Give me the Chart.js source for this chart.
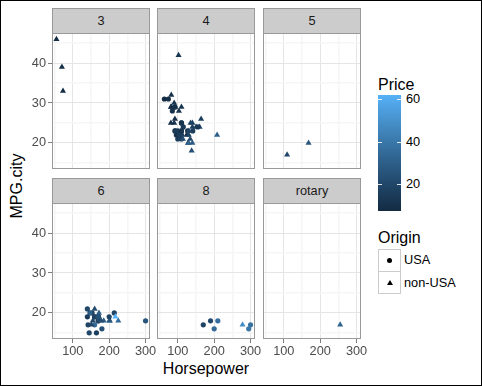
<!DOCTYPE html>
<html>
<head>
<meta charset="utf-8">
<script src="https://cdn.jsdelivr.net/npm/chart.js@4.4.0/dist/chart.umd.min.js"></script>
<style>
  body { margin: 0; background: #fff; font-family: "Liberation Sans", Arial, sans-serif; }
  #fig { position: relative; width: 482px; height: 386px; overflow: hidden; background: #fff; }
  #fig canvas { position: absolute; }
  .frame { position: absolute; left: 0; top: 0; width: 482px; height: 386px; box-sizing: border-box; border: 1px solid #000; pointer-events: none; z-index: 5; }
  .strip { position: absolute; background: #ccc; border: 1px solid #999; box-sizing: border-box; text-align: center; font-size: 12.75px; color: #1a1a1a; line-height: 24px; }
  .txt { position: absolute; white-space: nowrap; color: #000; }
  .key { position: absolute; left: 378px; width: 23px; height: 23px; box-sizing: border-box; border: 1px solid #ccc; background: #fff; }
  .dot { position: absolute; left: 8px; top: 8px; width: 5px; height: 5px; border-radius: 50%; background: #000; }
  .tri { position: absolute; left: 7.5px; top: 7.5px; width: 0; height: 0; border-left: 3px solid transparent; border-right: 3px solid transparent; border-bottom: 5px solid #000; }
  .cbtick { position: absolute; width: 4px; height: 1px; background: rgba(255,255,255,0.85); }
</style>
</head>
<body>
<div id="fig">
  <div class="frame"></div>
  <div class="txt" style="left:0;top:359px;width:412px;text-align:center;font-size:16px;line-height:20px;">Horsepower</div>
  <div class="txt" style="left:-23px;top:176px;width:80px;text-align:center;font-size:16px;line-height:20px;transform:rotate(-90deg);">MPG.city</div>
  <div class="txt" style="left:378px;top:75px;font-size:16px;line-height:20px;">Price</div>
  <div id="colorbar" style="position:absolute;left:378px;top:95px;width:23px;height:116px;"></div>
  <div class="txt" style="left:378px;top:228px;font-size:16px;line-height:20px;">Origin</div>
  <div class="key" style="top:249px;"><div class="dot"></div></div>
  <div class="key" style="top:271px;"><div class="tri"></div></div>
  <div class="txt" style="left:404px;top:252px;font-size:12.75px;line-height:16px;">USA</div>
  <div class="txt" style="left:404px;top:275px;font-size:12.75px;line-height:16px;">non-USA</div>
</div>
<script>
// Cars93: one entry per car
const horsepower = [140,200,172,172,208,110,170,180,170,200,
  295,110,110,160,110,170,165,170,300,153,
  141,147,92,93,100,142,100,300,92,214,
  63,127,96,105,115,145,140,190,55,90,
  160,102,140,81,124,92,128,278,185,225,
  160,210,82,103,164,155,255,130,217,100,
  140,92,202,110,150,151,160,155,110,170,
  170,92,74,110,160,200,170,140,85,73,
  90,130,70,82,135,130,138,81,109,134,
  178,114,168];
const mpgCity = [25,18,20,19,22,22,19,16,19,16,
  16,25,25,19,21,18,15,17,17,20,
  23,20,29,23,22,17,21,18,29,20,
  31,23,22,22,24,15,21,18,46,30,
  24,42,24,29,22,26,20,17,18,18,
  17,18,29,28,26,18,17,20,19,23,
  19,29,18,29,24,17,21,24,23,18,
  19,23,31,23,19,19,19,20,28,33,
  25,23,39,32,25,22,18,25,17,21,
  18,21,20];
const price = [15.9,33.9,29.1,37.7,30.0,15.7,20.8,23.7,26.3,34.7,
  40.1,13.4,11.4,15.1,15.9,16.3,16.6,18.8,38.0,18.4,
  15.8,29.5,9.2,11.3,13.3,19.0,15.6,25.8,12.2,19.3,
  7.4,10.1,11.3,15.9,14.0,19.9,20.2,20.9,8.4,12.5,
  19.8,12.1,17.5,8.0,10.0,10.0,13.9,47.9,28.0,35.2,
  34.3,36.1,8.3,11.6,16.5,19.1,32.5,31.9,61.9,14.1,
  14.9,10.3,26.1,11.8,15.7,19.1,21.5,13.5,16.3,19.5,
  20.7,14.4,9.0,11.1,17.7,18.5,24.4,28.7,11.1,8.4,
  10.9,19.5,8.6,9.8,18.4,18.2,22.7,9.1,19.7,20.0,
  23.3,22.7,26.7];
const cylinders = ['4','6','6','6','4','4','6','6','6','8',
  '8','4','4','6','4','6','6','8','8','6',
  '4','6','4','4','4','6','4','6','4','6',
  '4','4','4','4','4','6','6','8','3','4',
  '4','4','4','4','4','4','4','8','6','6',
  '6','8','4','4','4','6','rotary','4','6','4',
  '6','4','6','4','4','6','6','4','4','6',
  '6','4','4','4','6','6','6','4','4','3',
  '4','4','3','4','4','4','4','4','5','4',
  '6','4','5'];
const U = 'USA', N = 'non-USA';
const origin = [N,N,N,N,N,U,U,U,U,U,
  U,U,U,U,U,U,U,U,U,U,
  U,U,U,U,U,U,U,U,U,U,
  U,U,U,U,U,U,U,U,N,N,
  N,N,N,N,N,N,N,N,N,N,
  U,U,N,N,N,N,N,N,N,U,
  U,N,N,N,N,N,N,U,U,U,
  U,U,U,U,U,U,U,N,U,N,
  N,N,N,N,N,N,N,N,N,N,
  N,N,N];

const facets = ['3','4','5','6','8','rotary'];
const xTicks = [50,100,150,200,250,300];
const yTicks = [15,20,25,30,35,40,45];
const priceTicks = [20,40,60];

// ggplot default gradient, interpolated in CIELAB
function toLab(hex) {
  const [r,g,b] = [1,3,5].map(i => {
    let c = parseInt(hex.substr(i,2),16)/255;
    return c <= 0.04045 ? c/12.92 : Math.pow((c+0.055)/1.055, 2.4);
  });
  const x = (0.4124564*r + 0.3575761*g + 0.1804375*b)/0.95047;
  const y = 0.2126729*r + 0.7151522*g + 0.0721750*b;
  const z = (0.0193339*r + 0.1191920*g + 0.9503041*b)/1.08883;
  const f = t => t > 216/24389 ? Math.cbrt(t) : (24389/27*t + 16)/116;
  return [116*f(y)-16, 500*(f(x)-f(y)), 200*(f(y)-f(z))];
}
function fromLab([L,a,bb]) {
  const fy = (L+16)/116, fx = fy + a/500, fz = fy - bb/200;
  const inv = t => { const t3 = t*t*t; return t3 > 216/24389 ? t3 : (116*t-16)/(24389/27); };
  const x = inv(fx)*0.95047, y = inv(fy), z = inv(fz)*1.08883;
  const rgb = [
    3.2404542*x - 1.5371385*y - 0.4985314*z,
    -0.9692660*x + 1.8760108*y + 0.0415560*z,
    0.0556434*x - 0.2040259*y + 1.0572252*z
  ].map(c => {
    c = c <= 0.0031308 ? 12.92*c : 1.055*Math.pow(c,1/2.4) - 0.055;
    return Math.round(Math.max(0, Math.min(1, c))*255);
  });
  return 'rgb(' + rgb.join(',') + ')';
}
const lowLab = toLab('#132B43'), highLab = toLab('#56B1F7');
const pMin = Math.min(...price), pMax = Math.max(...price);
function priceColor(p) {
  const t = (p - pMin)/(pMax - pMin);
  return fromLab(lowLab.map((v,i) => v + (highLab[i]-v)*t));
}

const fig = document.getElementById('fig');
const font = { family: '"Liberation Sans", Arial, sans-serif', size: 12.75 };

// colour bar legend
const cb = document.getElementById('colorbar');
const stops = [];
for (let i = 0; i <= 20; i++) stops.push(priceColor(pMax - (pMax-pMin)*i/20) + ' ' + (i*5) + '%');
cb.style.background = 'linear-gradient(to bottom,' + stops.join(',') + ')';
priceTicks.forEach(v => {
  const y = 95 + (pMax - v)/(pMax - pMin)*116;
  [378, 397].forEach(x => {
    const t = document.createElement('div');
    t.className = 'cbtick';
    t.style.left = x + 'px'; t.style.top = Math.round(y) + 'px';
    fig.appendChild(t);
  });
  const l = document.createElement('div');
  l.className = 'txt';
  l.style.cssText = 'left:406px;top:' + (Math.round(y) - 8) + 'px;font-size:12.75px;line-height:16px;';
  l.textContent = v;
  fig.appendChild(l);
});

const panelBorder = {
  id: 'panelBorder',
  afterDraw(chart) {
    const a = chart.chartArea, ctx = chart.ctx;
    ctx.save();
    ctx.strokeStyle = '#999';
    ctx.lineWidth = 1;
    ctx.strokeRect(a.left + 0.5, a.top + 0.5, a.right - a.left - 1, a.bottom - a.top - 1);
    ctx.restore();
  }
};

const colLeft = [52, 157, 263], rowTop = [33, 203];
const panelW = 98, panelH = 136;
const padT = 10;

facets.forEach((f, i) => {
  const col = i % 3, row = Math.floor(i / 3);
  const padL = col === 0 ? 40 : 0, padB = row === 1 ? 24 : 0;
  const extraB = row === 0 ? 10 : 0;

  const strip = document.createElement('div');
  strip.className = 'strip';
  strip.style.left = colLeft[col] + 'px';
  strip.style.top = (rowTop[row] - 25) + 'px';
  strip.style.width = panelW + 'px';
  strip.style.height = '26px';
  strip.textContent = f;
  fig.appendChild(strip);

  const cv = document.createElement('canvas');
  cv.width = padL + panelW + 12;
  cv.height = padT + panelH + padB + extraB;
  cv.style.left = (colLeft[col] - padL) + 'px';
  cv.style.top = (rowTop[row] - padT) + 'px';
  fig.appendChild(cv);

  const idx = [];
  cylinders.forEach((c, k) => { if (c === f) idx.push(k); });

  new Chart(cv, {
    type: 'scatter',
    data: {
      datasets: [{
        data: idx.map(k => ({ x: horsepower[k], y: mpgCity[k] })),
        pointStyle: idx.map(k => origin[k] === 'USA' ? 'circle' : 'triangle'),
        pointRadius: idx.map(k => origin[k] === 'USA' ? 2.6 : 3.5),
        pointBackgroundColor: idx.map(k => priceColor(price[k])),
        pointBorderWidth: 0
      }]
    },
    options: {
      responsive: false,
      animation: false,
      events: [],
      layout: { padding: { top: padT, right: 12, bottom: extraB, left: 0 }, autoPadding: false },
      plugins: { legend: { display: false }, tooltip: { enabled: false } },
      scales: {
        x: {
          type: 'linear', min: 42.75, max: 312.25,
          afterBuildTicks: s => { s.ticks = xTicks.map(v => ({ value: v })); },
          afterFit: s => { s.height = padB; },
          border: { display: false },
          grid: {
            color: c => c.tick && c.tick.value % 100 === 0 ? '#e5e5e5' : '#f6f6f6',
            lineWidth: c => c.tick && c.tick.value % 100 === 0 ? 1 : 1.5,
            tickLength: 4,
            tickColor: c => row === 1 && c.tick && c.tick.value % 100 === 0 ? '#7f7f7f' : 'rgba(0,0,0,0)'
          },
          ticks: {
            display: row === 1, autoSkip: false, maxRotation: 0, padding: 1,
            color: '#4d4d4d', font,
            callback: v => v % 100 === 0 ? String(v) : ''
          }
        },
        y: {
          type: 'linear', min: 13.45, max: 47.55,
          afterBuildTicks: s => { s.ticks = yTicks.map(v => ({ value: v })); },
          afterFit: s => { s.width = padL; },
          border: { display: false },
          grid: {
            color: c => c.tick && c.tick.value % 10 === 0 ? '#e5e5e5' : '#f6f6f6',
            lineWidth: c => c.tick && c.tick.value % 10 === 0 ? 1 : 1.5,
            tickLength: 4,
            tickColor: c => col === 0 && c.tick && c.tick.value % 10 === 0 ? '#7f7f7f' : 'rgba(0,0,0,0)'
          },
          ticks: {
            display: col === 0, autoSkip: false, padding: 2,
            color: '#4d4d4d', font,
            callback: v => v % 10 === 0 ? String(v) : ''
          }
        }
      }
    },
    plugins: [panelBorder]
  });
});
</script>
</body>
</html>
